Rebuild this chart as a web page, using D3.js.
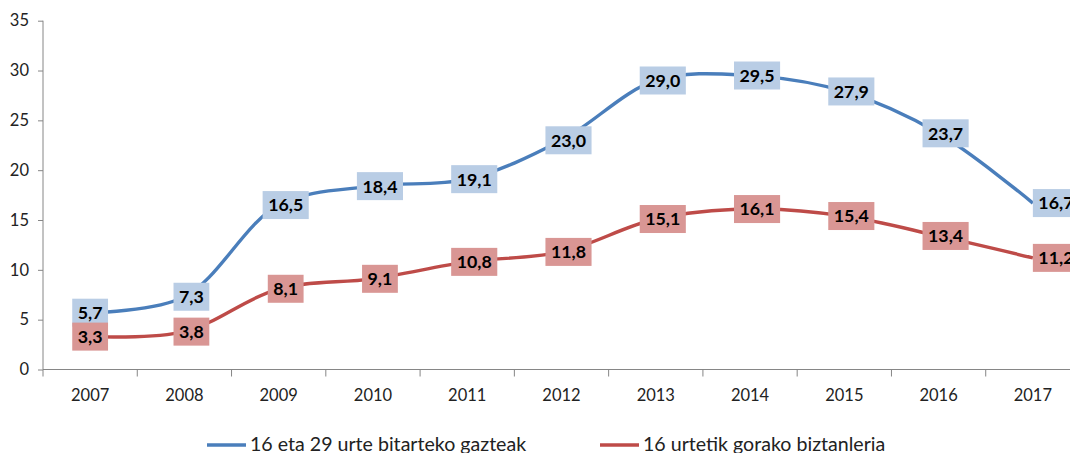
<!DOCTYPE html>
<html><head><meta charset="utf-8">
<script src="https://cdn.jsdelivr.net/npm/d3@7"></script>
<style>body{margin:0;background:#fff}svg{display:block}</style>
</head><body>
<svg id="c" width="1070" height="453"></svg>
<script>
const years = ["2007","2008","2009","2010","2011","2012","2013","2014","2015","2016","2017"];
const youth = [5.7,7.3,16.5,18.4,19.1,23.0,29.0,29.5,27.9,23.7,16.7];
const adults = [3.3,3.8,8.1,9.1,10.8,11.8,15.1,16.1,15.4,13.4,11.2];
const yTicks = [0,5,10,15,20,25,30,35];
const seriesNames = ["16 eta 29 urte bitarteko gazteak","16 urtetik gorako biztanleria"];

const svg = d3.select("#c");
const font = "Lato, 'Open Sans', sans-serif";
const x = d3.scaleBand().domain(years).range([43, 1080]).padding(0);
const y = d3.scaleLinear().domain([0,35]).range([369.5, 20.7]);
const axisCol = "#868686";

// y axis
const ya = svg.append("g").attr("transform","translate(43,0)")
  .call(d3.axisLeft(y).tickValues(yTicks).tickSize(5).tickPadding(9).tickFormat(d3.format("d")));
ya.select(".domain").attr("stroke",axisCol).attr("d",`M0,${y(0)}V${y(35)}`);
ya.selectAll(".tick line").attr("stroke",axisCol);
ya.selectAll("text").attr("font-family",font).attr("font-size",16.5).attr("fill","#222");

// x axis
const xa = svg.append("g").attr("transform",`translate(0,${y(0)})`)
  .call(d3.axisBottom(x).tickSize(0).tickPadding(20));
xa.select(".domain").attr("stroke",axisCol).attr("d",`M43,0H1080`);
xa.selectAll("text").attr("font-family",font).attr("font-size",16.5).attr("fill","#222");
xa.selectAll(".bnd").data(years).enter().append("line")
  .attr("x1",d=>x(d)).attr("x2",d=>x(d)).attr("y1",0).attr("y2",7).attr("stroke",axisCol);

const cxOf = i => x(years[i]) + x.bandwidth()/2;
const line = d3.line().x((d,i)=>cxOf(i)).y(d=>y(d)).curve(d3.curveCatmullRom.alpha(0.5));
const series = [
  {vals:youth, stroke:"#4a7ebb", box:"#b9cde5"},
  {vals:adults, stroke:"#be4b48", box:"#d99694"}
];
series.forEach(s=>{
  svg.append("path").attr("d",line(s.vals)).attr("fill","none").attr("stroke",s.stroke).attr("stroke-width",3.4);
});
const fmt = v => v.toFixed(1).replace(".",",");
const n = years.length;
series.forEach(s=>{
  const g = svg.append("g");
  s.vals.forEach((v,i)=>{
    const t = g.append("text").attr("y",y(v)).attr("dy","0.36em").attr("text-anchor","middle")
      .attr("font-family",font).attr("font-weight","bold").attr("font-size",17.8).attr("fill","#000").text(fmt(v));
    const w = t.node().getComputedTextLength();
    const bw = w + 11;
    // label placement: first centred, last to the right of its point, others nudged slightly right
    const cx = i === 0 ? cxOf(i) : (i === n-1 ? cxOf(i) + bw/2 : cxOf(i) + 7);
    t.attr("x", cx);
    g.insert("rect","text").attr("x",cx-bw/2).attr("y",y(v)-14).attr("width",bw).attr("height",28).attr("fill",s.box);
  });
});

// legend
const leg = [{x:207,c:"#4a7ebb",n:seriesNames[0]},{x:600,c:"#be4b48",n:seriesNames[1]}];
leg.forEach(l=>{
  svg.append("line").attr("x1",l.x).attr("x2",l.x+39).attr("y1",445).attr("y2",445).attr("stroke",l.c).attr("stroke-width",3.5);
  svg.append("text").attr("x",l.x+43).attr("y",451).attr("font-family",font).attr("font-size",19.6).attr("fill","#222").text(l.n);
});
</script>
</body></html>
